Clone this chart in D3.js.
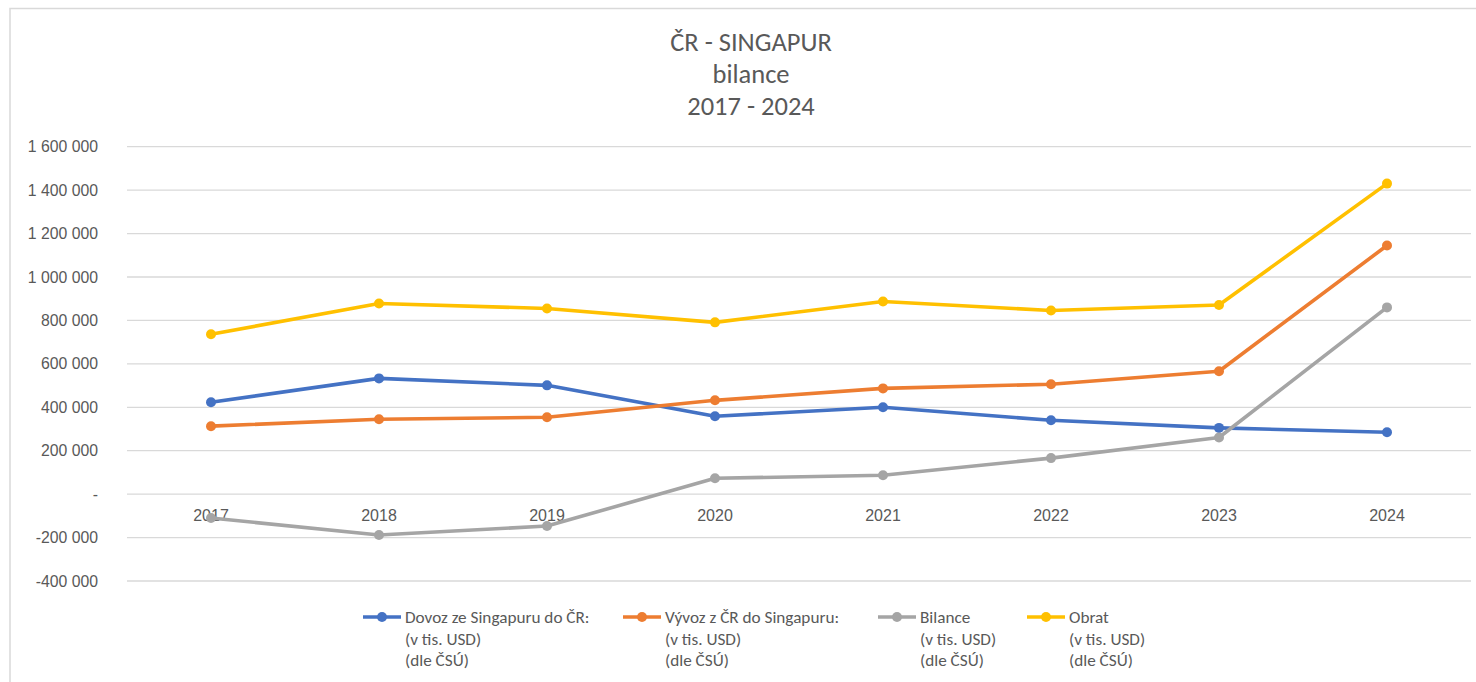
<!DOCTYPE html>
<html>
<head>
<meta charset="utf-8">
<script src="https://cdn.jsdelivr.net/npm/d3@7"></script>
<style>
  body { margin: 0; background: #fff; }
  svg { display: block; font-family: Calibri, Carlito, "Liberation Sans", sans-serif; }
</style>
</head>
<body>
<div id="grafico"></div>
<script>
// data
var years = ["2017", "2018", "2019", "2020", "2021", "2022", "2023", "2024"];
var dovoz = [423000, 533000, 501000, 359000, 400000, 340000, 305000, 285000];
var vyvoz = [313000, 345000, 354000, 432000, 487000, 506000, 566000, 1145000];
var bilance = [-110000, -188000, -147000, 73000, 87000, 166000, 261000, 860000];
var obrat = [736000, 878000, 855000, 791000, 887000, 846000, 871000, 1430000];
var yTicks = [-400000, -200000, 0, 200000, 400000, 600000, 800000, 1000000, 1200000, 1400000, 1600000];

var series = [
  { name: "Dovoz ze Singapuru do ČR:", values: dovoz, color: "#4472C4", lx: 363 },
  { name: "Vývoz z ČR do Singapuru:", values: vyvoz, color: "#ED7D31", lx: 623 },
  { name: "Bilance", values: bilance, color: "#A5A5A5", lx: 878 },
  { name: "Obrat", values: obrat, color: "#FFC000", lx: 1027 }
];

var W = 1476, H = 682;
var margin = {top: 146.7, left: 127, right: 4, bottom: 101};

var svg = d3.select("#grafico").append("svg")
  .attr("width", W).attr("height", H);

// chart border
svg.append("rect")
  .attr("x", 10).attr("y", 8.5)
  .attr("width", W + 20).attr("height", H + 20)
  .attr("fill", "none").attr("stroke", "#d9d9d9").attr("stroke-width", 1.5);

var x = d3.scaleBand().domain(years).range([margin.left, 1471]);
var y = d3.scaleLinear().domain([-400000, 1600000]).range([581, 146.7]);

// grid
svg.append("g").selectAll("line")
  .data(yTicks).enter().append("line")
  .attr("x1", margin.left).attr("x2", 1471)
  .attr("y1", function(d) { return y(d); })
  .attr("y2", function(d) { return y(d); })
  .attr("stroke", "#d9d9d9").attr("stroke-width", 1.3);

// y axis labels: space as thousands separator, plain hyphen, "-" for zero
function fmt(d) {
  if (d === 0) return "-";
  return d3.format(",")(d).replace(/,/g, " ").replace("\u2212", "-");
}
var yAxis = svg.append("g")
  .attr("transform", "translate(" + margin.left + ",0)")
  .call(d3.axisLeft(y).tickValues(yTicks).tickFormat(fmt).tickSize(0).tickPadding(29));
yAxis.select(".domain").remove();
yAxis.selectAll("text")
  .attr("fill", "#595959").attr("font-size", 15.8);

// x axis labels (at zero line)
var xAxis = svg.append("g")
  .attr("transform", "translate(0," + y(0) + ")")
  .call(d3.axisBottom(x).tickSize(0).tickPadding(16));
xAxis.select(".domain").remove();
xAxis.selectAll("text")
  .attr("fill", "#595959").attr("font-size", 16);

// lines
var line = d3.line()
  .x(function(d, i) { return x(years[i]) + x.bandwidth() / 2; })
  .y(function(d) { return y(d); });

series.forEach(function(s) {
  var g = svg.append("g");
  g.append("path")
    .datum(s.values)
    .attr("fill", "none")
    .attr("stroke", s.color)
    .attr("stroke-width", 3.6)
    .attr("stroke-linejoin", "round")
    .attr("d", line);
  g.selectAll("circle")
    .data(s.values).enter().append("circle")
    .attr("cx", function(d, i) { return x(years[i]) + x.bandwidth() / 2; })
    .attr("cy", function(d) { return y(d); })
    .attr("r", 5)
    .attr("fill", s.color);
});

// title
var title = svg.append("text")
  .attr("x", 751).attr("y", 51)
  .attr("text-anchor", "middle")
  .attr("fill", "#595959").attr("font-size", 26.5);
["ČR - SINGAPUR", "bilance", "2017 - 2024"].forEach(function(t, i) {
  title.append("tspan").attr("x", 751).attr("dy", i === 0 ? 0 : 31.8).text(t);
});

// legend
var legend = svg.append("g");
series.forEach(function(s) {
  var g = legend.append("g").attr("transform", "translate(" + s.lx + ",617)");
  g.append("line").attr("x1", 0).attr("x2", 38)
    .attr("stroke", s.color).attr("stroke-width", 3.6);
  g.append("circle").attr("cx", 19).attr("r", 5).attr("fill", s.color);
  var t = g.append("text").attr("x", 42).attr("y", 6)
    .attr("fill", "#595959").attr("font-size", 17.2);
  [s.name, "(v tis. USD)", "(dle ČSÚ)"].forEach(function(l, i) {
    t.append("tspan").attr("x", 42).attr("dy", i === 0 ? 0 : 21.5).text(l);
  });
});
</script>
</body>
</html>
